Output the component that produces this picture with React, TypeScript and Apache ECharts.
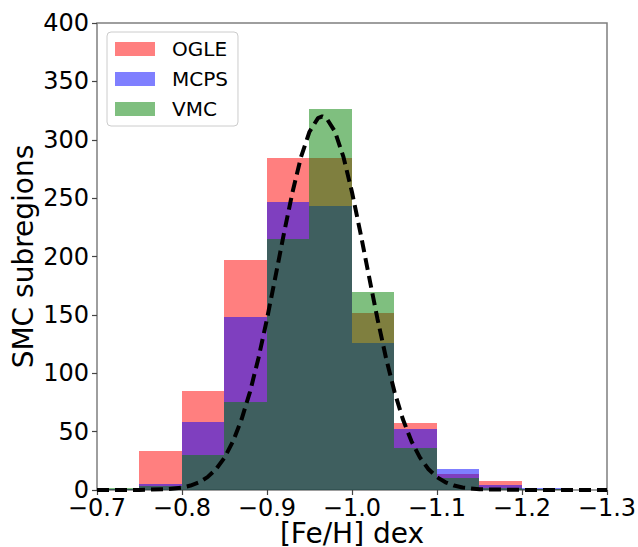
import React, { useEffect, useRef } from "react";
import * as echarts from "echarts";

// Histogram bin edges ([Fe/H] dex)
const binEdges = [-0.70, -0.75, -0.80, -0.85, -0.90, -0.95, -1.00, -1.05, -1.10, -1.15, -1.20, -1.25, -1.30];
// Counts per bin
const ogleCounts = [1, 33, 85, 197, 284, 284, 152, 57, 14, 8, 1, 0];
const mcpsCounts = [1, 5, 58, 148, 247, 243, 126, 52, 18, 4, 2, 0];
const vmcCounts = [2, 3, 30, 75, 215, 326, 170, 36, 10, 2, 1, 0];

// Dashed fit curve
const curveX = [-0.70, -0.75, -0.78, -0.80, -0.81, -0.82, -0.83, -0.84, -0.85, -0.86, -0.87, -0.88, -0.89, -0.90, -0.91, -0.92, -0.93, -0.94, -0.95, -0.96, -0.965, -0.97, -0.98, -0.99, -1.00, -1.01, -1.02, -1.03, -1.04, -1.05, -1.06, -1.07, -1.08, -1.09, -1.10, -1.11, -1.12, -1.13, -1.15, -1.20, -1.30];
const curveY = [0, 0.1, 0.6, 2.1, 3.8, 6.6, 11.0, 17.8, 27.7, 41.7, 60.3, 84.1, 113.1, 146.5, 182.9, 220.0, 255.1, 285.1, 306.9, 318.5, 320, 318.5, 306.9, 285.1, 255.1, 220.0, 182.9, 146.5, 113.1, 84.1, 60.3, 41.7, 27.7, 17.8, 11.0, 6.6, 3.8, 2.1, 0.6, 0.1, 0];

const xTicks = { min: -1.3, max: -0.7, interval: 0.1 };
const yTicks = { min: 0, max: 400, interval: 50 };

const seriesNames = ["OGLE", "MCPS", "VMC"];
const seriesColors = ["rgba(255,0,0,0.5)", "rgba(0,0,255,0.5)", "rgba(0,128,0,0.5)"];
const allCounts = [ogleCounts, mcpsCounts, vmcCounts];

const FONT = "DejaVu Sans";
const SPINE = "#7f7f7f";

export default function App() {
  const ref = useRef<HTMLDivElement>(null);
  useEffect(() => {
    if (!ref.current) return;
    const chart = echarts.init(ref.current, null, { renderer: "svg" });
    const fmt = (v: number) => (v < 0 ? "\u2212" : "") + Math.abs(v).toFixed(1);

    const histSeries = allCounts.map((counts, si) => ({
      type: "custom",
      name: seriesNames[si],
      itemStyle: { color: seriesColors[si] },
      z: 2 + si,
      encode: { x: [0, 1], y: 2 },
      data: counts.map((c, i) => [binEdges[i], binEdges[i + 1], c]),
      renderItem: (params: any, api: any) => {
        const x0 = api.value(0);
        const x1 = api.value(1);
        const v = api.value(2);
        const p0 = api.coord([x0, 0]);
        const p1 = api.coord([x1, v]);
        const left = Math.round(Math.min(p0[0], p1[0]));
        const right = Math.round(Math.max(p0[0], p1[0]));
        const top = Math.round(Math.min(p0[1], p1[1]));
        const bottom = Math.round(Math.max(p0[1], p1[1]));
        return {
          type: "rect",
          shape: { x: left, y: top, width: right - left, height: bottom - top },
          style: { fill: seriesColors[params.seriesIndex] },
        };
      },
    }));

    chart.setOption({
      animation: false,
      backgroundColor: "#ffffff",
      textStyle: { fontFamily: FONT },
      grid: {
        left: 97,
        right: 31,
        top: 23,
        bottom: 57,
        outerBoundsMode: "none",
        containLabel: false,
        show: true,
        borderColor: SPINE,
        borderWidth: 1.5,
        backgroundColor: "transparent",
      },
      legend: {
        orient: "vertical",
        left: 107,
        top: 32,
        data: seriesNames.map((n) => ({ name: n, icon: "rect" })),
        itemWidth: 40,
        itemHeight: 14,
        itemGap: 10,
        padding: [7, 10, 7, 8],
        borderColor: "#cccccc",
        borderWidth: 1,
        borderRadius: 4,
        backgroundColor: "rgba(255,255,255,0.8)",
        textStyle: {
          fontFamily: FONT,
          fontSize: 20,
          lineHeight: 20,
          color: "#000",
          padding: [0, 0, 0, 12],
        },
      },
      xAxis: {
        type: "value",
        inverse: true,
        min: xTicks.min,
        max: xTicks.max,
        interval: xTicks.interval,
        name: "[Fe/H] dex",
        nameLocation: "middle",
        nameGap: 29,
        nameMoveOverlap: false,
        nameTextStyle: { fontFamily: FONT, fontSize: 28, color: "#000" },
        axisLine: { show: false },
        axisTick: { show: true, inside: false, length: 5, lineStyle: { color: "#444", width: 1.2 } },
        axisLabel: { fontFamily: FONT, fontSize: 24, color: "#000", margin: 6, formatter: fmt },
        splitLine: { show: false },
      },
      yAxis: {
        type: "value",
        min: yTicks.min,
        max: yTicks.max,
        interval: yTicks.interval,
        name: "SMC subregions",
        nameLocation: "middle",
        nameGap: 60,
        nameMoveOverlap: false,
        nameTextStyle: { fontFamily: FONT, fontSize: 28, color: "#000" },
        axisLine: { show: false },
        axisTick: { show: true, inside: false, length: 5, lineStyle: { color: "#444", width: 1.2 } },
        axisLabel: { fontFamily: FONT, fontSize: 24, color: "#000", margin: 8 },
        splitLine: { show: false },
      },
      series: [
        ...histSeries,
        {
          type: "line",
          name: "fit",
          z: 10,
          showSymbol: false,
          symbol: "none",
          data: curveX.map((x, i) => [x, curveY[i]]),
          lineStyle: { color: "#000", width: 4, type: [12, 6] },
        },
      ],
    });
    return () => chart.dispose();
  }, []);
  return (
    <div
      ref={ref}
      style={{ position: "absolute", left: 0, top: 0, width: 638, height: 547 }}
    />
  );
}
